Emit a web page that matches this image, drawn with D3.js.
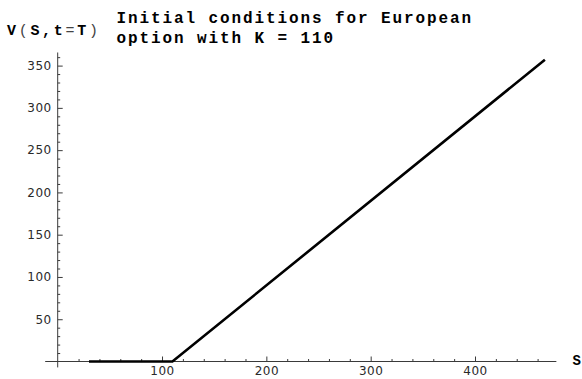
<!DOCTYPE html>
<html>
<head>
<meta charset="utf-8">
<script src="https://cdn.jsdelivr.net/npm/d3@7"></script>
<style>
  html, body { margin: 0; padding: 0; background: #fff; }
  svg { display: block; }
</style>
</head>
<body>
<svg id="chart" width="582" height="379"></svg>
<script>
// Payoff of a European call at expiry, V(S, T) = max(S - K, 0), K = 110
const strike = 110;
const spotValues = [30, 110, 467];
const payoffValues = [0, 0, 357];

const xMajorTicks = [100, 200, 300, 400];
const xMinorTicks = [20, 40, 60, 80, 120, 140, 160, 180, 220, 240, 260, 280, 320, 340, 360, 380, 420, 440, 460];
const yMajorTicks = [50, 100, 150, 200, 250, 300, 350];
const yMinorTicks = [10, 20, 30, 40, 60, 70, 80, 90, 110, 120, 130, 140, 160, 170, 180, 190,
                     210, 220, 230, 240, 260, 270, 280, 290, 310, 320, 330, 340, 360];

const titleLines = ["Initial conditions for European", "option with K = " + strike];

const svg = d3.select("#chart");

const x = d3.scaleLinear().domain([0, 400]).range([57.7, 475]);
const y = d3.scaleLinear().domain([0, 350]).range([361.5, 65.6]);

const axisColor = "#3a3a3a";
const tickFont = "'DejaVu Sans', sans-serif";
const monoFont = "'Liberation Mono', 'Courier New', monospace";

// axis lines through the origin
svg.append("line")
  .attr("x1", x(-12)).attr("x2", x(478))
  .attr("y1", y(0)).attr("y2", y(0))
  .attr("stroke", axisColor).attr("stroke-width", 1);
svg.append("line")
  .attr("x1", x(0)).attr("x2", x(0))
  .attr("y1", y(-7)).attr("y2", y(365.5))
  .attr("stroke", axisColor).attr("stroke-width", 1);

// minor ticks
svg.append("g")
  .attr("transform", `translate(0,${y(0)})`)
  .call(d3.axisBottom(x).tickValues(xMinorTicks).tickSize(-2.5).tickFormat(""))
  .call(g => g.select(".domain").remove())
  .call(g => g.selectAll("line").attr("stroke", axisColor));
svg.append("g")
  .attr("transform", `translate(${x(0)},0)`)
  .call(d3.axisLeft(y).tickValues(yMinorTicks).tickSize(-2.5).tickFormat(""))
  .call(g => g.select(".domain").remove())
  .call(g => g.selectAll("line").attr("stroke", axisColor));

// major ticks with labels
svg.append("g")
  .attr("transform", `translate(0,${y(0)})`)
  .call(d3.axisBottom(x).tickValues(xMajorTicks).tickSize(-5).tickPadding(5).tickFormat(d3.format("d")))
  .call(g => g.select(".domain").remove())
  .call(g => g.selectAll("line").attr("stroke", axisColor))
  .call(g => g.selectAll("text")
    .attr("fill", "#2a2a2a")
    .style("font-family", tickFont)
    .style("font-size", "12px")
    .style("letter-spacing", "0.5px"));
svg.append("g")
  .attr("transform", `translate(${x(0)},0)`)
  .call(d3.axisLeft(y).tickValues(yMajorTicks).tickSize(-5).tickPadding(6).tickFormat(d3.format("d")))
  .call(g => g.select(".domain").remove())
  .call(g => g.selectAll("line").attr("stroke", axisColor))
  .call(g => g.selectAll("text")
    .attr("fill", "#2a2a2a")
    .style("font-family", tickFont)
    .style("font-size", "12px")
    .style("letter-spacing", "0.5px"));

// payoff curve
const line = d3.line()
  .x((d, i) => x(spotValues[i]))
  .y(d => y(d));
svg.append("path")
  .datum(payoffValues)
  .attr("d", line)
  .attr("fill", "none")
  .attr("stroke", "#000")
  .attr("stroke-width", 2.6)
  .attr("stroke-linejoin", "miter");

// axis labels
const vLabel = svg.append("text")
  .attr("x", 7).attr("y", 35)
  .style("font-family", monoFont)
  .style("font-size", "15px")
  .style("letter-spacing", "2.7px")
  .style("font-weight", "bold");
[["V", "bold", "#000"], ["(", "normal", "#444"], ["S,t", "bold", "#000"], ["=", "normal", "#444"],
 ["T", "bold", "#000"], [")", "normal", "#444"]].forEach(([t, w, c]) => {
  vLabel.append("tspan").text(t).style("font-weight", w).attr("fill", c);
});

svg.append("text")
  .attr("x", 572.5).attr("y", 365)
  .style("font-family", monoFont)
  .style("font-size", "14px")
  .style("font-weight", "bold")
  .text("S");

// title
svg.append("g")
  .selectAll("text")
  .data(titleLines)
  .join("text")
  .attr("x", 116.5)
  .attr("y", (d, i) => 22.5 + i * 20)
  .style("font-family", monoFont)
  .style("font-size", "16px")
  .style("letter-spacing", "1.9px")
  .style("font-weight", "bold")
  .text(d => d);
</script>
</body>
</html>
